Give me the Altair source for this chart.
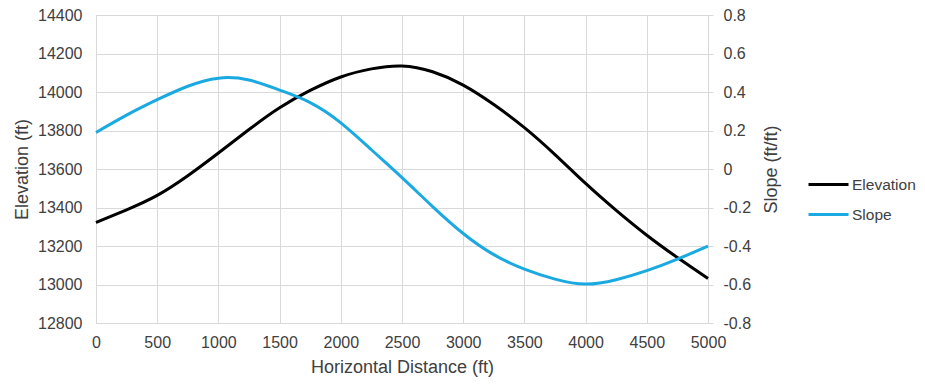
import altair as alt
import pandas as pd

distance = [0, 250, 500, 750, 1000, 1250, 1500, 1750, 2000, 2250, 2500,
            2750, 3000, 3250, 3500, 3750, 4000, 4250, 4500, 4750, 5000]
elevation = [13322, 13388, 13463, 13565, 13683, 13805, 13918, 14008, 14078, 14120, 14135,
             14105, 14036, 13935, 13815, 13675, 13525, 13385, 13256, 13140, 13031]
slope = [0.19, 0.28, 0.36, 0.43, 0.472, 0.462, 0.41, 0.345, 0.24, 0.10, -0.045,
         -0.195, -0.335, -0.445, -0.52, -0.572, -0.598, -0.575, -0.528, -0.468, -0.40]

series_names = ["Elevation", "Slope"]
series_colors = ["#000000", "#1BA9E1"]

df_e = pd.DataFrame({"distance": distance, "value": elevation, "series": "Elevation"})
df_s = pd.DataFrame({"distance": distance, "value": slope, "series": "Slope"})

FONT = "Liberation Sans"
LABEL_COLOR = "#404040"
GRID = "#D9D9D9"
LSIZE = 16
TSIZE = 18

x_enc = alt.X("distance:Q",
              scale=alt.Scale(domain=[0, 5000], nice=False),
              axis=alt.Axis(values=list(range(0, 5001, 500)), format="d",
                            title="Horizontal Distance (ft)", labelFlush=False,
                            grid=True, gridColor=GRID, domainColor=GRID, ticks=False,
                            labelPadding=11, labelFontSize=LSIZE, labelColor=LABEL_COLOR, labelFont=FONT,
                            titleFont=FONT, titleFontSize=TSIZE, titleFontWeight="normal",
                            titleColor=LABEL_COLOR, titleX=306, titleY=44,
                            titleBaseline="middle", titleAnchor="middle"))

color_enc = alt.Color("series:N",
                      scale=alt.Scale(domain=series_names, range=series_colors),
                      legend=alt.Legend(title=None, orient="none", legendX=711, legendY=148,
                                        symbolType="stroke", symbolSize=1600, symbolStrokeWidth=3,
                                        labelFont=FONT, labelFontSize=15.5, labelColor=LABEL_COLOR,
                                        labelOffset=2, rowPadding=-12, padding=0, labelLimit=200))

elev = alt.Chart(df_e).mark_line(strokeWidth=3, interpolate="natural").encode(
    x=x_enc,
    y=alt.Y("value:Q", scale=alt.Scale(domain=[12800, 14400], nice=False),
            axis=alt.Axis(values=list(range(12800, 14401, 200)), format="d",
                          title="Elevation (ft)", grid=True, gridColor=GRID, labelFlush=False,
                          domainColor=GRID, ticks=False, labelPadding=14,
                          labelFontSize=LSIZE, labelColor=LABEL_COLOR, labelFont=FONT,
                          titleFont=FONT, titleFontSize=TSIZE, titleFontWeight="normal",
                          titleColor=LABEL_COLOR, titleX=-74, titleY=154,
                          titleBaseline="middle", titleAnchor="middle")),
    color=color_enc,
)

slope_ch = alt.Chart(df_s).mark_line(strokeWidth=3, interpolate="natural").encode(
    x=x_enc,
    y=alt.Y("value:Q", scale=alt.Scale(domain=[-0.8, 0.8], nice=False),
            axis=alt.Axis(orient="right", values=[-0.8, -0.6, -0.4, -0.2, 0, 0.2, 0.4, 0.6, 0.8],
                          labelExpr="datum.value == 0 ? '0' : replace(format(datum.value, '.1f'), '\u2212', '-')",
                          title="Slope (ft/ft)", grid=False, labelFlush=False,
                          domainColor=GRID, ticks=True, tickColor=GRID, tickSize=5,
                          labelPadding=10, labelFontSize=LSIZE, labelColor=LABEL_COLOR, labelFont=FONT,
                          titleFont=FONT, titleFontSize=TSIZE, titleFontWeight="normal",
                          titleColor=LABEL_COLOR, titleX=63, titleY=154, titleAngle=270,
                          titleBaseline="middle", titleAnchor="middle")),
    color=color_enc,
)

chart = alt.layer(elev, slope_ch).resolve_scale(y="independent").properties(
    width=612, height=308,
    autosize=alt.AutoSizeParams(type="none"),
    padding={"left": 88, "top": 7, "right": 209, "bottom": 54},
).configure_view(stroke=None).configure(background="white")

chart.save("out.html", embed_options={"renderer": "svg", "actions": False})
